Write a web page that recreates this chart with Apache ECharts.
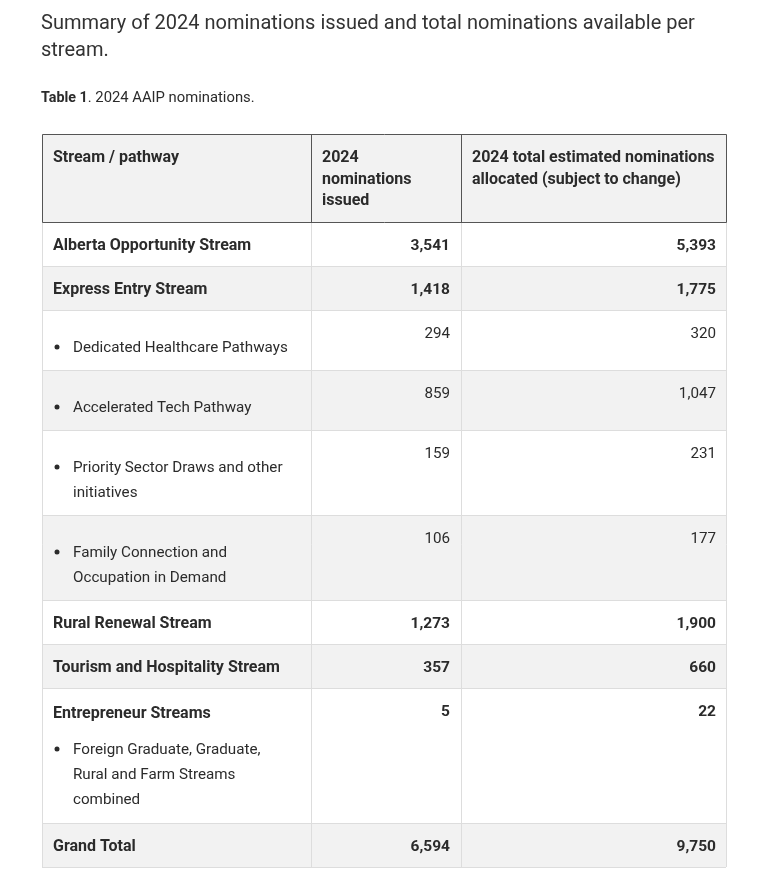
<!DOCTYPE html>
<html><head><meta charset="utf-8">
<script src="https://cdn.jsdelivr.net/npm/echarts@6/dist/echarts.min.js"></script>
<style>html,body{margin:0;padding:0;background:#fff}#c{width:782px;height:874px}</style>
</head><body><div id="c"></div>
<script>
// ---- data ----
const titleText = 'Summary of 2024 nominations issued and total nominations available per\nstream.';
const captionBold = 'Table 1';
const captionRest = '. 2024 AAIP nominations.';
const headers = ['Stream / pathway', '2024\nnominations\nissued', '2024 total estimated nominations\nallocated (subject to change)'];
const streams = [
  'Alberta Opportunity Stream',
  'Express Entry Stream',
  'Dedicated Healthcare Pathways',
  'Accelerated Tech Pathway',
  'Priority Sector Draws and other\ninitiatives',
  'Family Connection and\nOccupation in Demand',
  'Rural Renewal Stream',
  'Tourism and Hospitality Stream',
  'Entrepreneur Streams',
  'Grand Total'
];
const rowKinds = ['main', 'main', 'sub', 'sub', 'sub', 'sub', 'main', 'main', 'main', 'main'];
const notes = ['', '', '', '', '', '', '', '', 'Foreign Graduate, Graduate,\nRural and Farm Streams\ncombined', ''];
const issued = [3541, 1418, 294, 859, 159, 106, 1273, 357, 5, 6594];
const allocated = [5393, 1775, 320, 1047, 231, 177, 1900, 660, 22, 9750];

// ---- layout ----
const FONT = 'Roboto';
const TXT = '#2b2b2b';
const colX = [42, 311, 461, 726];
const tableTop = 134;
const headerH = 88;
const LH = 25;
const BOLD = 'bold 16px ' + FONT;
const REG = '400 15.2px ' + FONT;
function lines(s) { return s ? s.split('\n').length : 0; }
function rowHeight(i) {
  if (rowKinds[i] === 'sub') return 35 + LH * lines(streams[i]);
  if (notes[i]) return 60 + LH * lines(notes[i]);
  return 44;
}
const fmt = v => v.toLocaleString('en-US');

const g = [];
// title
g.push({ type: 'text', style: { text: titleText, x: 41, y: 22 - 12, font: '400 20px ' + FONT, lineHeight: 27, fill: '#333333', textVerticalAlign: 'top' } });
g.push({ type: 'text', style: { text: '{b|' + captionBold + '}{r|' + captionRest + '}', x: 41, y: 98, textVerticalAlign: 'middle',
  rich: { b: { font: 'bold 14.3px ' + FONT, fill: TXT }, r: { font: '400 14.8px ' + FONT, fill: TXT } } } });

// rows
let y = tableTop + headerH;
const rowTops = [];
for (let i = 0; i < streams.length; i++) {
  const h = rowHeight(i);
  rowTops.push([y, h]);
  g.push({ type: 'rect', shape: { x: colX[0], y: y, width: colX[3] - colX[0], height: h }, style: { fill: i % 2 ? '#f2f2f2' : '#ffffff' } });
  y += h;
}
const tableBottom = y;
// light grid lines
rowTops.forEach(([t, h]) => {
  g.push({ type: 'line', shape: { x1: colX[0], y1: t + h + 0.5, x2: colX[3], y2: t + h + 0.5 }, style: { stroke: '#dddddd', lineWidth: 1 } });
});
colX.forEach(x => {
  g.push({ type: 'line', shape: { x1: x + 0.5, y1: tableTop + headerH, x2: x + 0.5, y2: tableBottom }, style: { stroke: '#dddddd', lineWidth: 1 } });
});
// header
g.push({ type: 'rect', shape: { x: colX[0] + 0.5, y: tableTop + 0.5, width: colX[3] - colX[0], height: headerH }, style: { fill: '#f2f2f2', stroke: '#555555', lineWidth: 1 } });
[colX[1], colX[2]].forEach(x => {
  g.push({ type: 'line', shape: { x1: x + 0.5, y1: tableTop, x2: x + 0.5, y2: tableTop + headerH }, style: { stroke: '#555555', lineWidth: 1 } });
});
headers.forEach((h, k) => {
  g.push({ type: 'text', style: { text: h, x: colX[k] + 11, y: 158 - 10.75, font: BOLD, lineHeight: 21.5, fill: TXT, textVerticalAlign: 'top' } });
});

// cells
rowTops.forEach(([t, h], i) => {
  const kind = rowKinds[i];
  const bold = kind === 'main';
  const valFont = bold ? 'bold 15.5px ' + FONT : REG;
  const valY = t + 24;
  if (kind === 'main') {
    g.push({ type: 'text', style: { text: streams[i], x: colX[0] + 11, y: t + (notes[i] ? 26 : 24), font: BOLD, fill: TXT, textVerticalAlign: 'middle' } });
    if (notes[i]) {
      g.push({ type: 'circle', shape: { cx: colX[0] + 15, cy: t + 61, r: 2.5 }, style: { fill: TXT } });
      g.push({ type: 'text', style: { text: notes[i], x: colX[0] + 31, y: t + 62 - LH / 2, font: REG, lineHeight: LH, fill: TXT, textVerticalAlign: 'top' } });
    }
  } else {
    g.push({ type: 'circle', shape: { cx: colX[0] + 15, cy: t + 37, r: 2.5 }, style: { fill: TXT } });
    g.push({ type: 'text', style: { text: streams[i], x: colX[0] + 31, y: t + 38 - LH / 2, font: REG, lineHeight: LH, fill: TXT, textVerticalAlign: 'top' } });
  }
  g.push({ type: 'text', style: { text: fmt(issued[i]), x: colX[2] - 11, y: valY, font: valFont, fill: TXT, textAlign: 'right', textVerticalAlign: 'middle' } });
  g.push({ type: 'text', style: { text: fmt(allocated[i]), x: colX[3] - 10, y: valY, font: valFont, fill: TXT, textAlign: 'right', textVerticalAlign: 'middle' } });
});

const chart = echarts.init(document.getElementById('c'), null, { renderer: 'canvas' });
chart.setOption({ animation: false, backgroundColor: '#ffffff', graphic: { elements: g } });
</script></body></html>
